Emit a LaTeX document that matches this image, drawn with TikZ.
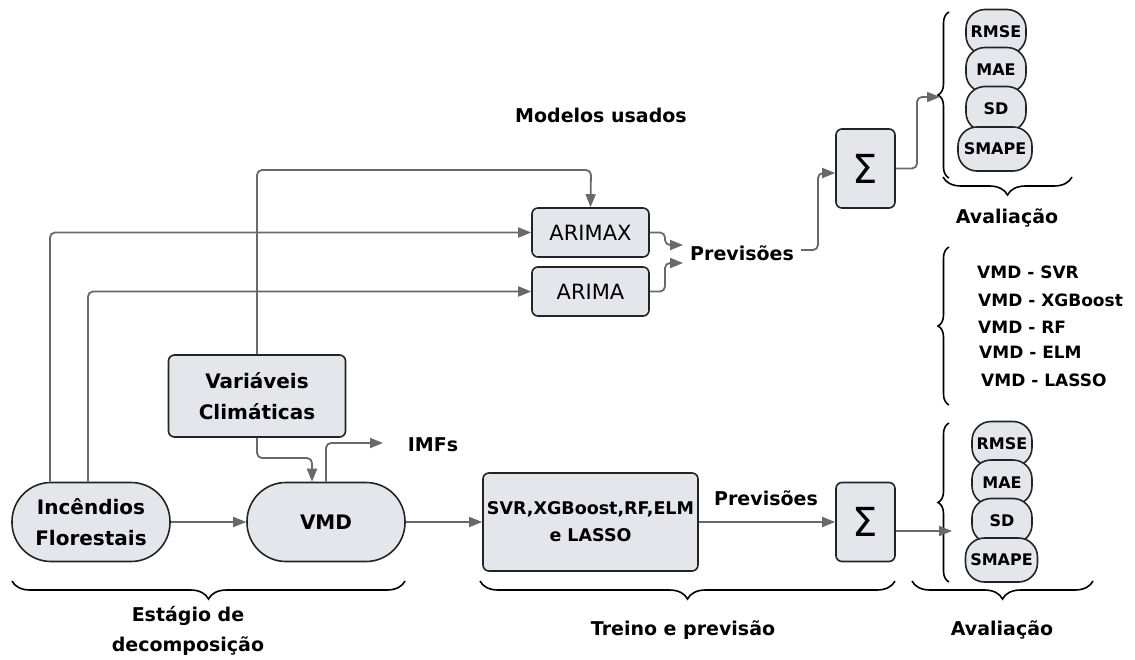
\documentclass[tikz,border=0pt]{standalone}
\usepackage{fontspec}
\setmainfont{DejaVu Sans}
\usetikzlibrary{arrows.meta,decorations.pathreplacing,calc}
\definecolor{boxfill}{RGB}{228,230,235}
\definecolor{lgray}{RGB}{105,105,105}
\definecolor{edgec}{RGB}{35,35,35}
\newcommand{\fsz}[2]{\fontsize{#1}{#2}\selectfont}
\tikzset{
  box/.style={draw=edgec, line width=1.6pt, fill=boxfill, rounded corners=6pt, align=center, inner sep=0pt},
  stad/.style={box, rounded corners=39pt, minimum width=158pt, minimum height=79pt, font=\bfseries\fsz{20}{31}},
  metric/.style={box, rounded corners=19pt, minimum width=60pt, minimum height=45pt, font=\bfseries\fsz{16}{19}},
  sigbox/.style={box, minimum width=59pt, minimum height=79pt, font=\fsz{40}{48}},
  armbox/.style={box, minimum width=117pt, minimum height=49pt, font=\fsz{21}{25}},
  lbl/.style={font=\bfseries\fsz{19}{30}, align=center, inner sep=0pt},
  conn/.style={draw=lgray, line width=1.8pt, rounded corners=5pt},
  arr/.style={conn, -{Triangle[length=13pt,width=10pt]}},
  bracebot/.style={draw=black, line width=1.6pt, decorate, decoration={brace, mirror, amplitude=18pt}},
  braceleft/.style={draw=black, line width=1.6pt, decorate, decoration={brace, amplitude=11pt}},
  vlist/.style={font=\bfseries\fsz{17}{20}, anchor=west, inner sep=0pt}
}
\begin{document}
\begin{tikzpicture}[x=1pt, y=-1pt]
\useasboundingbox[fill=white] (0,0) rectangle (1135,659);

% main nodes
\node[stad] (inc) at (91,522) {Incêndios\\Florestais};
\node[stad] (vmd) at (326,522) {VMD};
\node[box, minimum width=177pt, minimum height=82pt, font=\bfseries\fsz{20}{31}] (clim) at (257,396) {Variáveis\\Climáticas};
\node[armbox] (arimax) at (590.5,232.5) {ARIMAX};
\node[armbox] (arima) at (590.5,291.5) {ARIMA};
\node[lbl, anchor=west] (prev1) at (690,253) {Previsões};
\node[lbl] (mod) at (601,115) {Modelos usados};
\node[sigbox] (sig1) at (865.5,168.5) {Σ};
\node[box, minimum width=215pt, minimum height=98pt, font=\bfseries\fsz{17.5}{27}] (svr) at (590.5,522) {SVR,XGBoost,RF,ELM\\e LASSO};
\node[lbl] (prev2) at (766,498) {Previsões};
\node[sigbox] (sig2) at (865.5,522) {Σ};
\node[lbl] (imfs) at (433,445) {IMFs};

% top evaluation metrics
\node[metric] (r1) at (996,32) {RMSE};
\node[metric] (m1) at (996,70) {MAE};
\node[metric] (s1) at (996,109) {SD};
\node[metric, minimum width=74pt, minimum height=44pt] (p1) at (995,149) {SMAPE};
% bottom evaluation metrics
\node[metric] (r2) at (1002,444) {RMSE};
\node[metric] (m2) at (1002,482.5) {MAE};
\node[metric] (s2) at (1002,521) {SD};
\node[metric, minimum width=72pt, minimum height=44pt] (p2) at (1001.5,560) {SMAPE};

% VMD model list
\node[vlist] (l1) at (977,272) {VMD - SVR};
\node[vlist] (l2) at (978,300) {VMD - XGBoost};
\node[vlist] (l3) at (978,327) {VMD - RF};
\node[vlist] (l4) at (979,352) {VMD - ELM};
\node[vlist] (l5) at (981,380) {VMD - LASSO};

% braces
\coordinate (b1a) at (949,178); \coordinate (b1b) at (949,12);
\draw[braceleft] (b1a) -- (b1b);
\coordinate (b2a) at (949,405); \coordinate (b2b) at (949,247);
\draw[braceleft] (b2a) -- (b2b);
\coordinate (b3a) at (949,582); \coordinate (b3b) at (949,423);
\draw[braceleft] (b3a) -- (b3b);
\coordinate (b4a) at (943,177); \coordinate (b4b) at (1072,177);
\draw[bracebot] (b4a) -- (b4b);
\coordinate (b5a) at (12,581); \coordinate (b5b) at (405,581);
\draw[bracebot] (b5a) -- (b5b);
\coordinate (b6a) at (480,581); \coordinate (b6b) at (895,581);
\draw[bracebot] (b6a) -- (b6b);
\coordinate (b7a) at (912,581); \coordinate (b7b) at (1093,581);
\draw[bracebot] (b7a) -- (b7b);

\node[lbl] (aval1) at (1007,218) {Avaliação};
\node[lbl] (est) at (188,631) {Estágio de\\decomposição};
\node[lbl] (treino) at (683,630) {Treino e previsão};
\node[lbl] (aval2) at (1002,630) {Avaliação};

% connectors
\draw[arr] ([xshift=-41pt]inc.north) |- (arimax.west);
\draw[arr] ([xshift=-3pt]inc.north) |- (arima.west);
\coordinate (ctop) at (591,170);
\draw[arr] (clim.north) |- (ctop) -- (arimax.north);
\coordinate (p1in) at (683,245);
\coordinate (p2in) at (683,263);
\draw[arr] (arimax.east) -| (665,245) -- (p1in);
\draw[arr] (arima.east) -| (665,263) -- (p2in);
\coordinate (pout) at (818,250);
\draw[arr] ([xshift=7pt]prev1.east |- pout) -- (pout) |- ([yshift=-4.5pt]sig1.west);
\coordinate (e1in) at (940,97);
\draw[arr] (sig1.east) -| (917,97) -- (e1in);
\draw[arr] (inc.east) -- (vmd.west);
\draw[arr] (clim.south) |- (312,458) -- (vmd.north -| 312,0);
\coordinate (imfin) at (383,443);
\draw[arr] (vmd.north) |- (imfin);
\draw[arr] (vmd.east) -- (svr.west);
\draw[arr] (svr.east) -- (sig2.west);
\coordinate (e2in) at (952,531);
\draw[arr] ([yshift=-9pt]sig2.east) -- (e2in);
\end{tikzpicture}
\end{document}
